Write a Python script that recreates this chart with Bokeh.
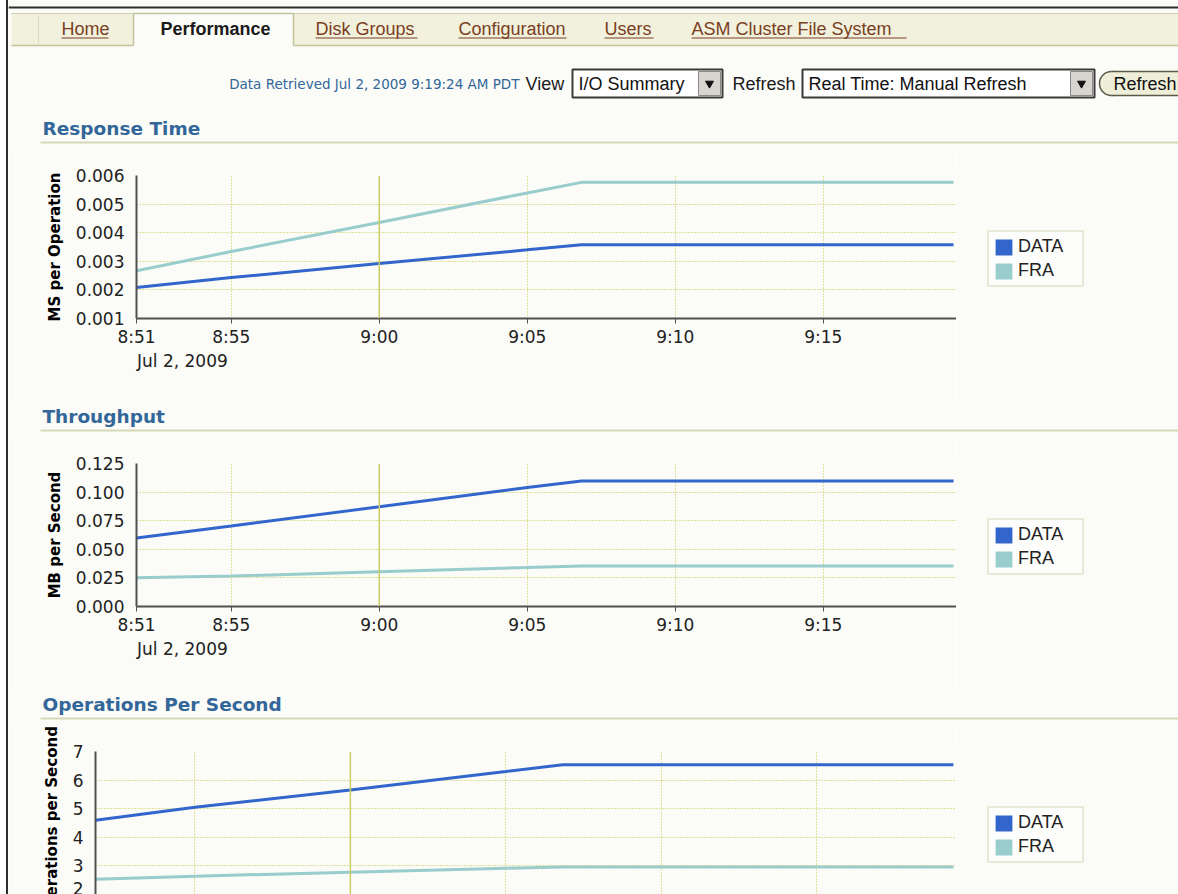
import datetime as dt
from bokeh.plotting import figure
from bokeh.models import (Range1d, FixedTicker, NumeralTickFormatter, Legend, LegendItem,
                          Span, ColumnDataSource, Div, DatetimeAxis)
from bokeh.layouts import column, row
from bokeh.core.properties import value
from bokeh.embed import file_html
from bokeh.resources import INLINE

# ---------------- data ----------------
day = "2009-07-02"
sample_times = ["08:51:48", "08:55:00", "09:00:00", "09:05:00", "09:06:50", "09:19:24"]
response_data = [0.00208, 0.00243, 0.00292, 0.00340, 0.00358, 0.00358]
response_fra = [0.00267, 0.00334, 0.00436, 0.00539, 0.00576, 0.00576]
throughput_data = [0.0599, 0.0704, 0.0871, 0.1040, 0.1098, 0.1098]
throughput_fra = [0.0252, 0.0266, 0.0304, 0.0341, 0.0353, 0.0353]
ops_data = [4.60, 5.05, 5.65, 6.30, 6.54, 6.54]
ops_fra = [2.53, 2.64, 2.78, 2.92, 2.96, 2.96]
series_names = ["DATA", "FRA"]
window_start = "08:51:48"
window_end = "09:19:30"
x_tick_times = ["08:51:48", "08:55:00", "09:00:00", "09:05:00", "09:10:00", "09:15:00"]
x_tick_labels = ["8:51", "8:55", "9:00", "9:05", "9:10", "9:15"]
hour_mark = "09:00:00"
date_label = "Jul 2, 2009"
rt_ticks = [0.001, 0.002, 0.003, 0.004, 0.005, 0.006]
tp_ticks = [0.000, 0.025, 0.050, 0.075, 0.100, 0.125]
ops_ticks = [2, 3, 4, 5, 6, 7]
section_titles = ["Response Time", "Throughput", "Operations Per Second"]
y_titles = ["MS per Operation", "MB per Second", "Operations per Second"]
tabs = ["Home", "Performance", "Disk Groups", "Configuration", "Users", "ASM Cluster File System"]
retrieved_text = "Data Retrieved Jul 2, 2009 9:19:24 AM PDT"
view_choice = "I/O Summary"
refresh_choice = "Real Time: Manual Refresh"

# ---------------- style / layout ----------------
BG = "#fbfcf8"
GRID = "#c4c43a"
HOUR = "#cccc66"
BLUE = "#3366cc"
TEAL = "#99cccc"
TITLE_BLUE = "#336699"
LINK = "#7a3f22"
OLIVE = "#cfcfaa"
X0, X1 = 8, 1178
W = X1 - X0
FRAME_RIGHT = 956
DATE_LABEL_SHIFT_MS = 93000   # centre of the date caption, right of the first tick

EPOCH = dt.datetime(1970, 1, 1)


def to_ms(hms):
    t = dt.datetime.strptime(f"{day} {hms}", "%Y-%m-%d %H:%M:%S")
    return int((t - EPOCH).total_seconds() * 1000)


def plain(height, top):
    p = figure(width=W, height=height, x_range=Range1d(X0, X1),
               y_range=Range1d(top + height, top),
               x_axis_location=None, y_axis_location=None,
               toolbar_location=None, output_backend="svg", min_border=0,
               background_fill_color=BG, border_fill_color=BG, outline_line_color=None)
    p.grid.visible = False
    return p


def header():
    p = plain(112, 0)
    p.segment(x0=[X0], y0=[7], x1=[X1], y1=[7], line_color="#2e2e2e", line_width=2)
    # tab bar
    p.quad(left=[11], right=[X1], top=[13], bottom=[45], fill_color="#f1f1de", line_color=None)
    p.segment(x0=[11], y0=[13], x1=[X1], y1=[13], line_color=OLIVE, line_width=1)
    p.segment(x0=[11, 293], y0=[45, 45], x1=[133, X1], y1=[45, 45], line_color="#c4c49c", line_width=1.5)
    p.quad(left=[133], right=[293], top=[12.5], bottom=[46], fill_color=BG, line_color=None)
    p.segment(x0=[133, 293, 133], y0=[13, 13, 13], x1=[133, 293, 293], y1=[45, 45, 13],
              line_color="#c4c49c", line_width=1.5)
    p.segment(x0=[38], y0=[16], x1=[38], y1=[43], line_color="#d8d8bc", line_width=1)
    lefts = [61, 160, 315, 458, 604, 691]
    rights = [108, 271, 417, 566, 653, 906]
    for i, name in enumerate(tabs):
        sel = name == "Performance"
        p.text(x=[lefts[i]], y=[28], text=[name], text_font=value("Liberation Sans"),
               text_font_size="18px", text_font_style="bold" if sel else "normal",
               text_color="#1a1a1a" if sel else LINK, text_baseline="middle", text_align="left")
        if not sel:
            p.segment(x0=[lefts[i]], y0=[37.5], x1=[rights[i]], y1=[37.5], line_color=LINK, line_width=1)
    # controls row
    p.text(x=[519], y=[83.5], text=[retrieved_text], text_font=value("DejaVu Sans"),
           text_font_size="13.5px", text_color=TITLE_BLUE, text_baseline="middle", text_align="right")
    for x, t in [(525, "View"), (732, "Refresh")]:
        p.text(x=[x], y=[83.5], text=[t], text_font=value("Liberation Sans"), text_font_size="18px",
               text_color="#1a1a1a", text_baseline="middle", text_align="left")
    for (l, r, txt) in [(572, 722, view_choice), (802, 1094, refresh_choice)]:
        p.quad(left=[l], right=[r], top=[69], bottom=[97], fill_color="#ffffff",
               line_color="#3a3a3a", line_width=2)
        p.quad(left=[r - 24], right=[r - 2], top=[71], bottom=[95], fill_color="#d8d5ce",
               line_color="#8a8a8a", line_width=1)
        p.scatter(x=[r - 13], y=[83], marker="inverted_triangle", size=8, color="#111111")
        p.text(x=[l + 6], y=[83.5], text=[txt], text_font=value("Liberation Sans"), text_font_size="18px",
               text_color="#111111", text_baseline="middle", text_align="left")
    # refresh button (cut by the window edge)
    p.ellipse(x=[1111], y=[83], width=24, height=24, fill_color="#efefd9", line_color="#5a5a4a", line_width=1.5)
    p.quad(left=[1111], right=[1190], top=[71], bottom=[95], fill_color="#efefd9", line_color=None)
    p.segment(x0=[1111, 1111], y0=[71, 95], x1=[X1, X1], y1=[71, 95], line_color="#5a5a4a", line_width=1.5)
    p.text(x=[1113], y=[83.5], text=["Refresh"], text_font=value("Liberation Sans"), text_font_size="18px",
           text_color="#111111", text_baseline="middle", text_align="left")
    return p


def section(title, top):
    p = plain(38, top)
    p.text(x=[42], y=[top + 16], text=[title], text_font=value("DejaVu Sans"), text_font_style="bold",
           text_font_size="18.5px", text_color=TITLE_BLUE, text_baseline="middle", text_align="left")
    p.segment(x0=[40], y0=[top + 30], x1=[X1], y1=[top + 30], line_color="#d6d8b8", line_width=2)
    return p


def chart(ylabel, yticks, yfmt, d_vals, f_vals, frame_left, height, with_x):
    t = [to_ms(s) for s in sample_times]
    src = ColumnDataSource(dict(t=t, data=d_vals, fra=f_vals))
    xt = [to_ms(s) for s in x_tick_times]
    bottom = 82 if with_x else 0
    p = figure(width=FRAME_RIGHT - X0, height=height, x_axis_type="datetime",
               x_axis_location="below" if with_x else None,
               x_range=Range1d(to_ms(window_start), to_ms(window_end)),
               y_range=Range1d(yticks[0], yticks[-1]),
               toolbar_location=None, output_backend="svg",
               min_border_left=frame_left - X0, min_border_right=0,
               min_border_top=25, min_border_bottom=bottom,
               background_fill_color=BG, border_fill_color=BG, outline_line_color=None)
    for g in (p.xgrid, p.ygrid):
        g.grid_line_color = GRID
        g.grid_line_dash = "1 2"
        g.grid_line_width = 1.1
    p.xgrid.ticker = FixedTicker(ticks=xt)
    p.ygrid.ticker = FixedTicker(ticks=yticks)
    p.add_layout(Span(location=to_ms(hour_mark), dimension="height", line_color=HOUR, line_width=1.5))

    ya = p.yaxis[0]
    ya.ticker = FixedTicker(ticks=yticks)
    ya.formatter = NumeralTickFormatter(format=yfmt)
    ya.axis_label = ylabel
    ya.axis_label_text_font = "DejaVu Sans"
    ya.axis_label_text_font_style = "bold"
    ya.axis_label_text_font_size = "15px"
    ya.axis_label_text_color = "#000000"
    ya.axis_label_standoff = 9
    ya.major_label_text_font = "DejaVu Sans"
    ya.major_label_text_font_size = "17px"
    ya.major_label_text_color = "#222222"
    ya.major_label_standoff = 12
    ya.major_tick_out = 0
    ya.major_tick_in = 0
    ya.minor_tick_out = 0
    ya.minor_tick_in = 0
    ya.axis_line_color = "#505050"
    ya.axis_line_width = 2

    if with_x:
        xa = p.xaxis[0]
        xa.ticker = FixedTicker(ticks=xt)
        xa.major_label_overrides = {k: v for k, v in zip(xt, x_tick_labels)}
        xa.major_label_text_font = "DejaVu Sans"
        xa.major_label_text_font_size = "17px"
        xa.major_label_text_color = "#222222"
        xa.major_label_standoff = 3
        xa.major_tick_out = 5
        xa.major_tick_in = 0
        xa.minor_tick_out = 0
        xa.minor_tick_in = 0
        xa.major_tick_line_color = "#505050"
        xa.axis_line_color = "#505050"
        xa.axis_line_width = 2
        # second line of the time axis: the date
        dtick = to_ms(window_start) + DATE_LABEL_SHIFT_MS
        da = DatetimeAxis(ticker=FixedTicker(ticks=[dtick]), major_label_overrides={dtick: date_label},
                          axis_line_color=None, major_tick_line_color=None, minor_tick_line_color=None,
                          major_tick_out=0, major_tick_in=0, minor_tick_out=0, minor_tick_in=0,
                          major_label_standoff=1, major_label_text_font="DejaVu Sans",
                          major_label_text_font_size="17px", major_label_text_color="#222222")
        p.add_layout(da, "below")

    p.line("t", "fra", source=src, line_color=TEAL, line_width=3)
    p.line("t", "data", source=src, line_color=BLUE, line_width=3)

    # legend panel to the right of the plot area (shares the chart's scales)
    lp = figure(width=X1 - FRAME_RIGHT, height=height, x_range=p.x_range, y_range=p.y_range,
                x_axis_location=None, y_axis_location=None, toolbar_location=None,
                output_backend="svg", min_border_left=0, min_border_right=0,
                min_border_top=25, min_border_bottom=bottom,
                background_fill_color=BG, border_fill_color=BG, outline_line_color=None)
    lp.grid.visible = False
    sw_d = lp.varea(x="t", y1="data", y2="data", source=src, fill_color=BLUE)
    sw_f = lp.varea(x="t", y1="fra", y2="fra", source=src, fill_color=TEAL)
    legend = Legend(items=[LegendItem(label=series_names[0], renderers=[sw_d]),
                           LegendItem(label=series_names[1], renderers=[sw_f])],
                    location=(31, 31), orientation="vertical",
                    glyph_width=21, glyph_height=20, label_height=20, spacing=3,
                    padding=4, margin=0, label_standoff=4, label_width=60,
                    border_line_color="#d6d6b4", border_line_width=2,
                    background_fill_color="#fdfdfb", background_fill_alpha=1.0,
                    label_text_font="Liberation Sans", label_text_font_size="18px",
                    label_text_color="#222222")
    lp.add_layout(legend)
    return row(p, lp, spacing=0)


c1 = chart(y_titles[0], rt_ticks, "0.000", response_data, response_fra, 136, 250, True)
c2 = chart(y_titles[1], tp_ticks, "0.000", throughput_data, throughput_fra, 136, 250, True)
c3 = chart(y_titles[2], ops_ticks, "0", ops_data, ops_fra, 95, 168, False)

blocks = [column(header(), spacing=0), column(section(section_titles[0], 112), spacing=0), c1,
          column(section(section_titles[1], 400), spacing=0), c2,
          column(section(section_titles[2], 688), spacing=0), c3]
body = column(*blocks, spacing=0)
edge = Div(text="", width=2, height=894, margin=(0, 0, 0, 6), styles={"background-color": "#2e2e2e"})
page = row(edge, body, spacing=0)

open("out.html", "w").write(file_html(page, INLINE))
